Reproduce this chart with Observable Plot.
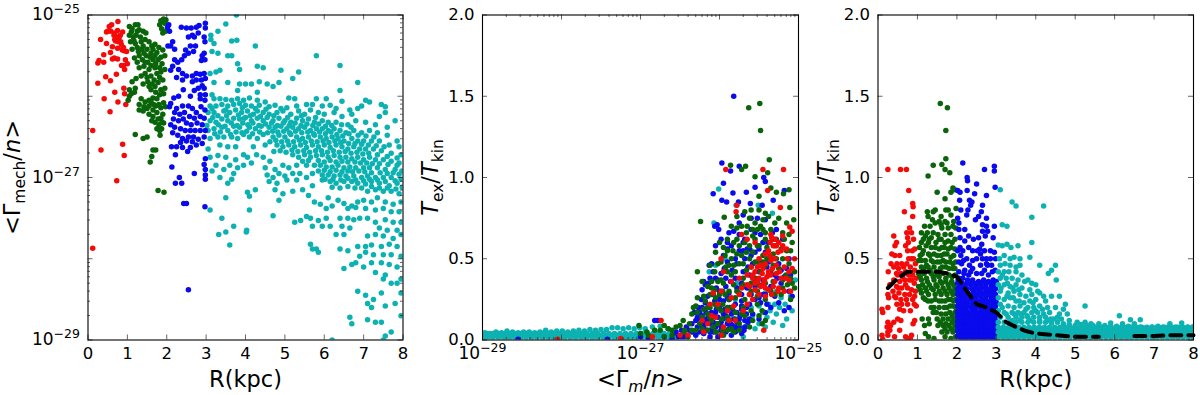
<!DOCTYPE html>
<html><head><meta charset="utf-8">
<script src="https://cdn.jsdelivr.net/npm/d3@7"></script>
<script src="https://cdn.jsdelivr.net/npm/@observablehq/plot@0.6"></script>
<style>html,body{margin:0;background:#fff}#c{position:relative;width:1200px;height:395px;overflow:hidden}</style>
</head><body><div id="c"></div>
<script>
const COL={red:"#f50a0a",green:"#0a640a",blue:"#0a0aee",cyan:"#0cb2b2"};
// Panel 1: R(kpc), log10 <Gamma_mech/n>
const a1Red=[.76,-25.08,.6,-25.12,.54,-25.14,.47,-25.21,.58,-25.2,.75,-25.19,.88,-25.21,.32,-25.3,.47,-25.35,.66,-25.25,.79,-25.28,.7,-25.32,.83,-25.33,.62,-25.39,.75,-25.41,.87,-25.43,.98,-25.45,.4,-25.49,.57,-25.46,.28,-25.56,.25,-25.59,.4,-25.58,.62,-25.54,.75,-25.54,1,-25.6,.85,-25.62,.93,-25.67,.45,-25.76,.25,-25.84,.57,-25.81,.72,-25.73,.91,-25.9,.68,-25.95,.93,-25.97,.41,-26.03,.76,-26.07,.96,-26.1,.56,-26.19,.12,-26.42,.33,-26.66,.88,-26.59,.92,-26.73,.73,-27.04,.12,-27.87,.68,-25.22,.82,-25.25,.9,-25.4,.67,-25.53,.85,-25.37,.5,-25.2,.95,-25.55,.9,-25.62,.72,-25.27,.77,-25.33,.92,-25.44,.68,-25.3];
const a1Green=[1.05,-25.14,1.2,-25.12,1.27,-25.12,1.25,-25.2,1.1,-25.21,1.05,-25.25,1.15,-25.27,1.3,-25.18,1.4,-25.2,1.47,-25.22,1.45,-25.3,1.35,-25.33,1.2,-25.35,1.08,-25.33,1.12,-25.42,1.25,-25.4,1.37,-25.42,1.55,-25.33,1.62,-25.38,1.7,-25.36,1.8,-25.4,1.9,-25.43,1.75,-25.46,1.6,-25.47,1.48,-25.5,1.3,-25.5,1.18,-25.53,1.25,-25.58,1.38,-25.55,1.52,-25.58,1.65,-25.55,1.78,-25.55,1.88,-25.6,1.95,-25.5,1.7,-25.65,1.55,-25.67,1.42,-25.63,1.3,-25.65,1.35,-25.75,1.45,-25.72,1.6,-25.75,1.75,-25.72,1.85,-25.7,1.95,-25.67,1.9,-25.8,1.78,-25.83,1.63,-25.85,1.52,-25.82,1.4,-25.85,1.22,-25.78,1.12,-25.82,1.2,-25.9,1.6,-25.92,1.72,-25.95,1.85,-25.92,1.95,-25.9,1.65,-26.02,1.75,-26.03,1.55,-26.05,1.45,-26.07,1.35,-26.03,1.3,-26.1,1.42,-26.13,1.55,-26.12,1.67,-26.1,1.8,-26.1,1.92,-26.08,1.05,-26,1.02,-26.05,1.3,-26.17,1.55,-26.22,1.65,-26.25,1.75,-26.2,1.85,-26.27,1.8,-26.35,1.7,-26.32,1.62,-26.3,1.9,-26.22,1.87,-26.4,1.2,-26.47,1.4,-26.52,1.5,-26.5,1.83,-26.48,1.72,-26.66,1.65,-26.66,1.62,-26.74,1.58,-26.81,1.78,-27.16,1.93,-27.18,1.85,-25.07,1.92,-25.05,1.98,-25.06,1.82,-25.12,1.95,-25.1,1.97,-25.2,1.9,-25.22,1.87,-25.17,1.1,-25.97,1.18,-25.95,1.05,-25.92,1.12,-25.17,1.22,-25.25,1.33,-25.27,1.17,-25.32,1.4,-25.38,1.5,-25.42,1.28,-25.45,1.65,-25.42,1.42,-25.47,1.7,-25.5,1.58,-25.52,1.45,-25.58,1.85,-25.52,1.72,-25.6,1.6,-25.62,1.82,-25.65,1.5,-25.77,1.68,-25.8,1.55,-25.88,1.82,-25.77,1.7,-25.88,1.82,-25.98,1.92,-25.97,1.6,-26.07,1.72,-26.12,1.5,-26.15,1.85,-26.14,1.97,-26.13,1.4,-26.18,1.65,-26.17,1.78,-26.28,1.92,-26.33,1.75,-26.4,1.82,-26.42,1.88,-26.32];
const a1Blue=[2.05,-25.12,2.07,-25.2,2.02,-25.15,2.15,-25.33,2.1,-25.38,2.2,-25.42,2.03,-25.38,2.37,-25.15,2.5,-25.16,2.62,-25.16,2.75,-25.15,2.82,-25.13,2.98,-25.1,2.98,-25.16,2.8,-25.22,2.65,-25.25,2.55,-25.27,2.7,-25.27,2.95,-25.27,2.97,-25.33,2.73,-25.38,2.6,-25.38,2.48,-25.43,2.55,-25.47,2.45,-25.5,2.68,-25.45,2.95,-25.47,2.9,-25.5,2.88,-25.56,2.97,-25.55,2.38,-25.55,2.2,-25.55,2.28,-25.58,2.15,-25.63,2.1,-25.68,2.3,-25.67,2.4,-25.72,2.25,-25.77,2.4,-25.8,2.5,-25.75,2.65,-25.75,2.75,-25.72,2.85,-25.73,2.95,-25.72,2.98,-25.78,2.88,-25.8,2.75,-25.8,2.65,-25.82,2.9,-25.87,2.8,-25.9,2.95,-25.9,2.98,-25.98,2.85,-25.98,2.7,-25.93,2.6,-26,2.42,-25.92,2.3,-26,2.18,-26.02,2.85,-26.03,2.97,-26.05,2.1,-26.09,2.07,-26.13,2.25,-26.15,2.4,-26.12,2.55,-26.12,2.65,-26.15,2.75,-26.2,2.87,-26.13,2.97,-26.17,2.2,-26.2,2.33,-26.22,2.45,-26.2,2.58,-26.25,2.7,-26.27,2.85,-26.25,2.95,-26.27,2.17,-26.28,2.3,-26.3,2.42,-26.28,2.5,-26.33,2.62,-26.35,2.77,-26.33,2.9,-26.35,2.1,-26.35,2.2,-26.38,2.35,-26.4,2.47,-26.42,2.6,-26.42,2.72,-26.42,2.85,-26.42,2.98,-26.42,2.15,-26.45,2.28,-26.48,2.4,-26.52,2.55,-26.5,2.68,-26.5,2.8,-26.53,2.95,-26.5,2.35,-26.57,2.5,-26.55,2.65,-26.56,2.75,-26.6,2.9,-26.58,2.12,-26.62,2.25,-26.62,2.4,-26.63,2.6,-26.63,2.53,-26.68,2.22,-26.72,2.98,-26.77,2.95,-26.84,2.98,-26.9,2.13,-26.87,2.7,-26.95,2.98,-26.97,2.32,-27,2.98,-27.02,2.22,-27.07,2.38,-27.07,2.43,-27.32,2.5,-27.32,2.97,-27.36,2.55,-28.38];
const a1Cyan=[3.3,-25.2,3.5,-25.11,3.77,-25,3.12,-25.25,3.12,-25.3,3.2,-25.35,3.65,-25.32,3.78,-25.31,4.25,-25.38,3.15,-25.45,3.3,-25.47,3.55,-25.5,3.65,-25.5,3.8,-25.6,3.85,-25.67,5.8,-25.5,4.3,-25.63,4.45,-25.65,6.4,-25.62,3.1,-25.72,3.25,-25.7,3.35,-25.68,4.9,-25.68,5.35,-25.7,5.2,-25.78,4.35,-25.82,3.2,-25.83,3.55,-25.83,3.85,-25.85,4,-25.85,4.15,-25.85,4.55,-25.85,4.7,-25.88,4.85,-25.83,6.85,-25.83,4.3,-25.95,6.4,-25.93,3.15,-25.98,3.8,-25.93,
3.2,-26.03,3.35,-26.03,3.5,-26.04,3.65,-26.05,3.8,-26.03,3.95,-26.05,4.1,-26.02,4.3,-26.05,4.5,-26.07,5.1,-26.02,5.25,-26.03,5.8,-26.03,6.05,-26.03,6.45,-26.06,7.05,-26.05,7.15,-26.07,7.45,-26.1,7.55,-26.13,
3.1,-26.12,3.25,-26.12,3.4,-26.1,3.55,-26.12,3.7,-26.1,3.85,-26.09,4,-26.11,4.15,-26.12,4.35,-26.11,4.6,-26.13,4.75,-26.11,5.05,-26.14,5.3,-26.12,5.55,-26.1,5.7,-26.1,5.95,-26.12,6.15,-26.11,6.3,-26.15,6.65,-26.17,6.85,-26.15,6.95,-26.12,
3.05,-26.2,3.2,-26.2,3.3,-26.24,3.45,-26.18,3.6,-26.2,3.75,-26.17,3.9,-26.2,4.05,-26.18,4.2,-26.22,4.3,-26.18,4.45,-26.2,4.6,-26.22,4.8,-26.2,4.95,-26.18,5.15,-26.22,5.35,-26.18,5.5,-26.22,5.65,-26.17,5.85,-26.2,6,-26.22,6.25,-26.2,6.45,-26.25,6.7,-26.22,7.4,-26.25,7.55,-26.2,7.8,-26.3,
3.1,-26.3,3.25,-26.32,3.4,-26.28,3.55,-26.3,3.7,-26.27,3.85,-26.28,4,-26.26,4.15,-26.3,4.3,-26.27,4.45,-26.3,4.55,-26.26,4.7,-26.3,4.85,-26.27,5,-26.3,5.15,-26.32,5.3,-26.27,5.45,-26.3,5.6,-26.28,5.75,-26.32,5.95,-26.3,6.1,-26.32,6.3,-26.32,6.6,-26.35,6.8,-26.3,7.05,-26.32,7.3,-26.35,7.6,-26.38,
3.05,-26.42,3.2,-26.4,3.4,-26.38,3.55,-26.42,3.7,-26.37,3.85,-26.38,4.1,-26.38,4.25,-26.4,4.4,-26.37,4.6,-26.38,4.75,-26.38,4.9,-26.37,5.05,-26.4,5.2,-26.38,5.35,-26.4,5.5,-26.38,5.65,-26.42,5.8,-26.4,5.95,-26.4,6.1,-26.42,6.25,-26.4,6.4,-26.42,6.55,-26.45,6.75,-26.42,6.95,-26.45,7.15,-26.42,7.35,-26.45,7.6,-26.48,7.85,-26.55,
3.1,-26.52,3.3,-26.5,3.45,-26.5,3.65,-26.5,3.8,-26.52,3.95,-26.47,4.1,-26.5,4.3,-26.52,4.45,-26.47,4.7,-26.5,4.85,-26.48,5,-26.5,5.15,-26.47,5.3,-26.5,5.45,-26.52,5.6,-26.5,5.75,-26.48,5.9,-26.5,6.05,-26.52,6.2,-26.5,6.35,-26.52,6.5,-26.55,6.7,-26.52,6.85,-26.55,7,-26.55,7.2,-26.55,7.4,-26.55,7.65,-26.6,7.9,-26.62,
3.05,-26.65,3.35,-26.6,3.55,-26.62,3.75,-26.62,4.2,-26.62,4.5,-26.6,4.8,-26.6,4.95,-26.62,5.1,-26.6,5.25,-26.62,5.4,-26.6,5.55,-26.63,5.7,-26.6,5.85,-26.62,6,-26.6,6.15,-26.63,6.3,-26.6,6.45,-26.62,6.6,-26.65,6.75,-26.62,6.9,-26.65,7.05,-26.65,7.25,-26.65,7.45,-26.67,7.7,-26.7,7.95,-26.72,
3.1,-26.75,3.3,-26.73,3.5,-26.75,3.75,-26.78,3.95,-26.72,4.05,-26.75,5.2,-26.72,5.35,-26.75,5.5,-26.72,5.65,-26.75,5.8,-26.73,5.95,-26.72,6.1,-26.75,6.25,-26.73,6.4,-26.75,6.55,-26.75,6.7,-26.77,6.85,-26.75,7,-26.78,7.15,-26.75,7.3,-26.78,7.5,-26.78,7.7,-26.8,7.9,-26.82,
3.25,-26.85,3.6,-26.85,3.8,-26.88,4.75,-26.9,4.95,-26.85,5.1,-26.88,5.55,-26.85,5.75,-26.85,5.9,-26.85,6.05,-26.87,6.2,-26.87,6.35,-26.85,6.5,-26.88,6.65,-26.87,6.8,-26.88,7,-26.88,7.15,-26.88,7.35,-26.88,7.55,-26.9,7.8,-26.9,7.97,-26.92,
4.55,-26.97,4.7,-27,4.85,-26.95,5,-26.98,5.95,-26.97,6.1,-26.97,6.25,-26.98,6.4,-26.97,6.55,-26.98,6.75,-26.98,6.95,-27,7.1,-26.98,7.3,-27,7.5,-27,7.7,-27,7.95,-27.02,
3.55,-27.07,3.65,-27.02,4.6,-27.05,4.8,-27.07,5.05,-27.03,5.3,-27.03,5.95,-27.03,6.15,-27.05,6.3,-27.07,6.5,-27.05,6.7,-27.05,6.85,-27.07,7.05,-27.08,7.2,-27.05,7.4,-27.07,7.65,-27.1,7.85,-27.07,
4.05,-27.18,4.25,-27.15,4.75,-27.15,4.95,-27.2,5.2,-27.17,5.45,-27.15,5.6,-27.22,5.7,-27.1,6.95,-27.13,7.1,-27.17,7.3,-27.15,7.5,-27.17,7.7,-27.17,7.9,-27.2,
4.1,-27.23,3.5,-27.25,4.85,-27.28,5.75,-27.3,6.1,-27.25,6.35,-27.28,6.5,-27.32,6.7,-27.35,6.85,-27.3,7,-27.28,7.2,-27.3,7.35,-27.25,7.55,-27.3,7.75,-27.33,7.95,-27.3,
3.1,-27.4,4.1,-27.4,5.9,-27.33,6.05,-27.38,6.2,-27.35,6.6,-27.38,6.8,-27.37,7.05,-27.38,7.3,-27.4,7.5,-27.38,7.7,-27.42,7.9,-27.42,
3.4,-27.5,4.7,-27.47,5.4,-27.53,5.55,-27.48,5.65,-27.5,5.85,-27.53,6.05,-27.5,6.4,-27.5,6.6,-27.5,6.75,-27.52,6.9,-27.5,7.1,-27.5,7.3,-27.55,7.55,-27.52,7.75,-27.55,7.95,-27.55,
3.7,-27.6,5.25,-27.55,5.7,-27.6,5.95,-27.6,6.15,-27.6,6.45,-27.6,6.65,-27.62,7.4,-27.62,7.6,-27.65,7.85,-27.65,3.32,-27.7,3.5,-27.67,4.02,-27.67,4.03,-27.65,6.3,-27.7,6.5,-27.7,7.1,-27.72,7.3,-27.7,7.5,-27.72,7.75,-27.75,7.95,-27.7,
3.6,-27.83,5.65,-27.82,5.7,-27.88,5.8,-27.88,5.85,-27.92,6.4,-27.88,6.6,-27.9,6.85,-27.85,7.05,-27.85,7.2,-27.83,7.45,-27.85,7.65,-27.82,7.85,-27.85,
6.9,-27.97,7.05,-27.92,7.25,-27.95,7.5,-27.95,7.7,-27.95,7.95,-27.97,6.5,-28.12,6.7,-28.07,6.8,-28.05,7,-28.1,7.2,-28.05,7.45,-28.05,7.65,-28.07,7.85,-28.1,
7.3,-28.17,7.5,-28.25,7.55,-28.2,7.7,-28.3,7.85,-28.3,7.95,-28.25,6.85,-28.4,7.05,-28.45,7.25,-28.5,7.45,-28.42,7.95,-28.42,7.1,-28.55,7.2,-28.6,7.55,-28.58,7.8,-28.55,6.7,-28.8,6.65,-28.72,7.1,-28.75,7.3,-28.78,7.45,-28.78,7.95,-28.7,7.55,-28.95,6.2,-29,7.7,-28.9,7.5,-29];
const a1CyanFill=[3.15,-26.15,3.5,-26.17,3.92,-26.14,4.25,-26.15,4.52,-26.16,4.9,-26.15,3.17,-26.26,3.52,-26.24,3.82,-26.23,3.97,-26.27,4.12,-26.24,4.38,-26.25,4.72,-26.24,5.07,-26.26,5.42,-26.24,5.78,-26.26,3.02,-26.36,3.31,-26.35,3.48,-26.37,3.64,-26.33,3.79,-26.36,3.93,-26.33,4.06,-26.35,4.19,-26.33,4.34,-26.36,4.51,-26.34,4.66,-26.33,4.81,-26.36,4.96,-26.33,5.11,-26.36,5.26,-26.33,5.41,-26.36,5.56,-26.34,5.71,-26.36,5.86,-26.34,6.03,-26.37,6.19,-26.36,6.44,-26.35,6.68,-26.38,3.22,-26.46,3.36,-26.44,3.62,-26.47,3.76,-26.44,3.91,-26.45,4.03,-26.43,4.18,-26.46,4.36,-26.44,4.56,-26.45,4.69,-26.43,4.82,-26.44,4.97,-26.43,5.12,-26.45,5.27,-26.43,5.43,-26.45,5.58,-26.44,5.73,-26.46,5.88,-26.44,6.03,-26.46,6.17,-26.44,6.32,-26.47,6.47,-26.49,6.63,-26.46,6.86,-26.48,7.06,-26.49,7.26,-26.5,
4.62,-26.56,4.77,-26.54,4.92,-26.56,5.07,-26.55,5.22,-26.56,5.37,-26.54,5.52,-26.57,5.67,-26.55,5.82,-26.56,5.97,-26.55,6.12,-26.57,6.27,-26.55,6.42,-26.57,6.62,-26.58,6.78,-26.58,6.95,-26.59,7.12,-26.6,7.32,-26.61,7.52,-26.62,4.72,-26.68,4.88,-26.67,5.03,-26.69,5.18,-26.66,5.33,-26.68,5.48,-26.67,5.63,-26.69,5.78,-26.67,5.93,-26.67,6.08,-26.69,6.23,-26.67,6.38,-26.69,6.53,-26.68,6.68,-26.7,6.83,-26.69,6.98,-26.71,7.13,-26.7,7.35,-26.72,7.6,-26.74,7.85,-26.76,5.45,-26.8,5.6,-26.79,5.85,-26.79,6,-26.81,6.15,-26.79,6.3,-26.81,6.45,-26.8,6.6,-26.81,6.78,-26.81,6.92,-26.82,7.08,-26.82,7.22,-26.83,7.4,-26.83,7.62,-26.84,7.85,-26.85,5.85,-26.92,6,-26.91,6.15,-26.93,6.3,-26.91,6.45,-26.93,6.6,-26.92,6.72,-26.93,6.88,-26.92,7.03,-26.93,7.2,-26.94,7.42,-26.94,7.6,-26.95,7.75,-26.94,7.9,-26.96,6.02,-27.02,6.22,-27.02,6.42,-27.03,6.6,-27.01,6.8,-27.03,7,-27.04,7.15,-27.02,7.35,-27.03,7.55,-27.05,7.8,-27.04,6.2,-27.12,6.4,-27.13,6.6,-27.11,6.78,-27.13,7.2,-27.11,7.4,-27.13,7.6,-27.13,7.82,-27.14,7.98,-27.12,4.45,-26.75,4.62,-26.8,4.28,-26.72,3.95,-26.85,4.15,-26.82,3.45,-26.9,3.7,-26.95,4.5,-26.88,3.35,-27,3.15,-26.92,5.3,-26.85,5.38,-26.95,5.55,-27,5.2,-26.95,5.7,-26.95];
// Panel 2: log10 <Gamma_m/n>, Tex/Tkin
const b2CyanLow=[-29,-28.94,-28.87,-28.8,-28.73,-28.66,-28.59,-28.52,-28.45,-28.38,-28.31,-28.24,-28.17,-28.1,-28.03,-27.96,-27.89,-27.82,-27.75,-27.68,-27.61,-27.54,-27.47,-27.4,-27.33,-27.26,-27.19,-27.12,-27.05,-26.98,-26.91,-26.84,-26.77,-26.7,-26.63,-26.56];
const b2CyanMid=[-28.97,-28.9,-28.83,-28.76,-28.69,-28.62,-28.55,-28.48,-28.41,-28.34,-28.27,-28.2,-28.13,-28.06,-27.99,-27.92,-27.85,-27.78,-27.71,-27.64,-27.57,-27.5,-27.43,-27.36,-27.29,-27.22,-27.15,-27.08,-27.01,-26.94,-26.87,-26.8,-26.73,-26.66];
const b2CyanHigh=[-28.97,.045,-28.9,.04,-28.83,.05,-28.76,.045,-28.69,.055,-28.62,.05,-28.55,.045,-28.48,.05,-28.41,.05,-28.34,.045,-28.27,.05,-28.2,.06,-28.13,.05,-28.06,.055,-27.99,.055,-27.92,.05,-27.85,.055,-27.78,.06,-27.71,.055,-27.64,.065,-27.57,.06,-27.5,.065,-27.43,.065,-27.36,.075,-27.29,.075,-27.22,.07,-27.15,.075,-27.08,.07,-27.01,.075,-26.94,.07,-26.85,.08,-26.75,.085,-26.65,.07,-26.6,.04,-26.35,.05,-26.2,.04,-26.1,.07,-25.98,.06,-25.84,.06,-25.7,.02,-25.65,.09,-25.62,.12,-25.55,.07,-25.58,.15,-25.5,.1,-25.42,.08,-25.45,.17,-25.4,.14,-25.36,.18,-25.32,.11,-25.28,.16,-25.24,.2,-25.3,.22,-25.38,.22,-25.2,.09,-25.15,.13,-25.17,.22,-25.22,.26,-25.1,.27,-25.08,.18,-25.04,.37,-25.1,.36,-25.28,.3,-25.42,.29,-25.5,.21,-25.6,.2,-25.93,.5,-26.13,.42,-26.05,.46,-26.07,.72,-26.01,.93,-25.79,.83,-25.51,.83,-25.33,.78,-25.4,.6,-25.6,.55,-25.78,.35,-25.9,.12,-25.8,.25,-26,.3];
const b2Blue=[-25.82,1.5,-25.97,1.09,-25.86,1.04,-25.75,1.07,-25.95,.965,-25.83,.905,-26.08,.9,-25.97,.86,-25.91,.85,-25.66,.91,-25.55,.94,-25.44,1,-25.42,.975,-25.18,.92,-25.32,.86,-25.61,.84,-25.46,.83,-25.76,.85,-26.06,.7,-26.03,.71,-26.01,.68,-25.98,.62,-26.05,.58,-26.1,.47,-26.13,.46,-26.2,.36,-26.22,.31,-26.18,.34,-26.14,.35,-25.7,.77,-25.6,.75,-25.52,.75,-25.42,.74,-25.75,.72,-25.82,.67,-25.9,.6,-25.68,.62,-25.55,.66,-25.45,.6,-25.38,.6,-25.2,.62,-25.28,.68,-25.75,.55,-25.62,.56,-25.9,.48,-25.98,.41,-26.05,.38,-25.8,.38,-25.7,.42,-25.58,.47,-25.48,.48,-25.35,.5,-25.25,.47,-25.15,.44,-25.12,.3,-25.22,.35,-25.35,.33,-25.45,.28,-25.55,.33,-25.65,.32,-25.78,.32,-25.92,.33,-26,.3,-26.08,.28,-26.15,.27,-26.23,.25,-26.27,.2,-26.32,.17,-26.28,.13,-26.22,.15,-26.17,.17,-26.13,.2,-26.1,.14,-26.05,.17,-26,.2,-25.95,.24,-25.88,.25,-25.8,.22,-25.72,.24,-25.62,.22,-25.55,.25,-25.75,.13,-25.85,.16,-25.92,.15,-25.98,.11,-26.05,.08,-26.12,.1,-26.2,.1,-26.28,.08,-26.35,.1,-26.38,.06,-26.42,.03,-26.48,.06,-26.55,.05,-26.7,.02,-26.78,.12,-26.82,.12,-25.68,.12,-25.78,.07,-25.85,.03,-25.72,.04,-25.92,.05,-26.02,.02,-26.12,.02,-26.2,.04,-26.3,.03,-26.45,.02,-26.52,.02,-26.6,.01,-26.9,.01,-27,.02,-27.42,.005,-28.55,.005];
const b2BlueFill=[-26.28,.14,-26.22,.2,-26.15,.12,-26.1,.17,-26.06,.24,-26.02,.14,-25.97,.18,-25.9,.1,-25.87,.2,-25.82,.13,-25.78,.17,-25.72,.19,-25.66,.16,-25.62,.13,-26.26,.05,-26.16,.06,-26.08,.05,-25.98,.06,-25.88,.07,-25.8,.05,-25.75,.08,-26.34,.05,-26.42,.08,-26.48,.02,-26.58,.04,-26.3,.12,-26.18,.23,-26.24,.09,-26.1,.06,-25.96,.13,-25.84,.09,-25.76,.11,-25.68,.08,-25.9,.26,-26,.25,-25.72,.28,-25.6,.28,-25.5,.26,-25.4,.22,-25.3,.27,-26.04,.32,-25.86,.36,-25.72,.35,-25.62,.4,-25.5,.42,-25.4,.45,-25.3,.4,-25.18,.39,-25.94,.44,-25.84,.43,-25.78,.47,-25.68,.5,-25.55,.54,-25.42,.54,-25.12,.5,-25.95,.52,-25.85,.58,-25.65,.56,-25.48,.65,-25.33,.66,-25.75,.65,-25.6,.68,-25.88,.66,-26.2,.08,-26.14,.14,-26.08,.11,-26.04,.19,-25.99,.09,-25.93,.19,-25.89,.13,-25.83,.18,-25.78,.11,-25.74,.15,-25.69,.06,-25.66,.2,-26.25,.17,-26.19,.13,-26.12,.05,-26.03,.1,-25.95,.16,-25.86,.1,-25.8,.08,-25.72,.21,-25.64,.11,-25.58,.16,-25.5,.13,-25.42,.17,-25.35,.2,-25.25,.23,-25.12,.2,-25.08,.27,-25.18,.18,-25.27,.38,-25.22,.43,-25.1,.4,-25.42,.28,-25.48,.23,-25.56,.38,-25.64,.45,-25.7,.55,-25.8,.5,-25.92,.38,-26.02,.37,-26.12,.38,-26.08,.42,-25.88,.29,-25.68,.33,-25.45,.37,-25.6,.52,-25.5,.56,-25.38,.48,-25.9,.56,-25.7,.6];
const b2Green=[-25.63,1.43,-25.49,1.455,-25.48,1.29,-25.37,1.11,-25.86,1.075,-25.67,1.07,-25.72,1.05,-25.55,1.005,-25.39,1.03,-25.35,.935,-25.28,.91,-25.12,.925,-25.19,.9,-25.5,.885,-25.11,.815,-26.24,.73,-25.94,.755,-25.06,.74,-25.68,.79,-25.6,.8,-25.5,.8,-25.42,.78,-25.38,.76,-25.25,.75,-25.78,.76,-25.85,.7,-25.72,.7,-25.55,.72,-25.48,.7,-25.35,.68,-25.2,.66,-25.12,.65,-26,.6,-25.9,.62,-25.78,.62,-25.68,.6,-25.55,.62,-25.42,.62,-25.3,.58,-26.05,.54,-25.93,.52,-25.83,.55,-25.72,.52,-25.58,.54,-25.45,.52,-25.28,.5,-25.15,.55,-26.12,.46,-26.02,.47,-25.88,.46,-25.75,.47,-25.6,.45,-25.42,.46,-25.25,.44,-25.12,.47,-25.05,.42,-26.28,.42,-26.22,.36,-26.1,.36,-25.98,.37,-25.85,.4,-25.7,.38,-25.55,.38,-25.38,.4,-25.2,.37,-25.08,.35,-26.28,.26,-26.2,.27,-26.1,.28,-26,.28,-25.88,.3,-25.75,.29,-25.62,.28,-25.42,.25,-25.22,.28,-25.1,.25,-26.33,.2,-26.12,.2,-26.02,.2,-25.9,.2,-25.7,.2,-25.52,.22,-26.22,.14,-26.1,.12,-25.97,.13,-25.8,.13,-26.38,.1,-26.5,.09,-26.65,.07,-26.75,.06,-26.92,.05,-27.02,.09,-26.9,.03,-26.45,.05,-26.3,.06,-26.05,.05,-25.95,.03,-25.85,.07,-26.6,.03,-26.7,.02,-26.4,.02,-26.15,.06];
const b2GreenFill=[-25.62,.75,-25.52,.68,-25.45,.74,-25.78,.69,-25.82,.6,-25.66,.66,-25.58,.64,-25.5,.58,-25.4,.57,-25.32,.62,-25.22,.56,-25.95,.57,-25.85,.5,-25.78,.53,-25.66,.54,-25.52,.48,-25.4,.5,-25.32,.46,-25.98,.48,-25.9,.42,-25.82,.46,-25.7,.47,-25.62,.5,-25.48,.42,-25.35,.42,-25.16,.4,-26.06,.42,-25.95,.35,-25.82,.34,-25.72,.33,-25.6,.35,-25.5,.34,-25.32,.36,-25.14,.34,-26.15,.33,-26.06,.31,-25.93,.28,-25.8,.26,-25.68,.25,-25.52,.27,-25.35,.3,-26.18,.24,-26.06,.22,-25.96,.22,-25.84,.2,-25.72,.16,-25.6,.18,-25.46,.18,-26.28,.17,-26.15,.16,-26.02,.1,-25.9,.14,-25.75,.1,-25.62,.08,-26.35,.06,-26.22,.07,-26.08,.08,-25.9,.06,-26.55,.08,-26.46,.12,-26.7,.09,-26.82,.06,-27,.04,-26.35,.16,-25.46,.1,-26.1,.32,-26.02,.36,-25.96,.3,-25.88,.25,-25.78,.3,-25.7,.34,-25.6,.3,-25.52,.3,-25.42,.35,-25.3,.28,-25.2,.32,-25.1,.38,-25.05,.32,-26.05,.26,-25.98,.18,-25.88,.12,-25.8,.17,-25.68,.15,-25.58,.12,-25.5,.15,-25.42,.12,-26.12,.28,-26.2,.19,-26.3,.21,-26.12,.14,-26.04,.05,-25.96,.06,-25.82,.05,-25.75,.06,-26.6,.06,-26.44,.06,-26.25,.1,-26.15,.2,-25.92,.45,-25.8,.42,-25.66,.43,-25.55,.48,-25.45,.48,-25.32,.53,-25.2,.5,-25.1,.55,-25.9,.55,-25.75,.58,-25.62,.58,-25.52,.58,-25.42,.66,-25.28,.62,-25.18,.62,-25.08,.6,-25.65,.7,-25.58,.68,-25.45,.68,-25.3,.72,-25.15,.72];
const b2Red=[-25.45,1.05,-25.92,1.05,-25.19,1.05,-25.39,.92,-25.23,.815,-25.78,.83,-25.79,.79,-25.11,.695,-25.08,.67,-25.44,.06,-26.74,.12,-25.35,.65,-25.3,.62,-25.25,.6,-25.32,.58,-25.2,.58,-25.15,.56,-25.38,.55,-25.42,.53,-25.65,.62,-25.55,.6,-25.72,.65,-25.98,.5,-25.5,.5,-25.35,.49,-25.05,.5,-25.6,.45,-25.52,.45,-25.45,.44,-25.38,.42,-25.28,.46,-25.18,.45,-25.12,.42,-25.65,.4,-25.58,.4,-25.5,.38,-25.43,.37,-25.35,.4,-25.22,.38,-25.75,.38,-25.85,.36,-25.95,.42,-25.62,.33,-25.55,.31,-25.48,.33,-25.42,.32,-25.32,.33,-25.25,.32,-25.18,.3,-25.1,.3,-25.58,.25,-25.65,.22,-25.75,.28,-25.85,.26,-25.98,.3,-26.08,.29,-26.12,.22,-25.82,.21,-25.9,.18,-25.95,.08,-26.05,.14,-26.15,.1,-26.2,.05,-25.98,.03,-26.4,.03,-26.5,.03,-28.05,.005,-27.25,.01,-26.85,.02,-25.34,.63,-25.28,.58,-25.22,.55,-25.36,.52,-25.55,.42,-25.48,.46,-25.4,.39,-25.52,.36,-25.46,.41,-25.44,.35,-25.38,.31,-25.3,.36,-25.58,.38,-25.28,.41,-25.62,.28,-25.42,.47,-25.33,.44,-25.24,.42,-25.16,.38,-25.55,.35,-25.65,.34,-25.72,.32,-25.5,.28,-25.42,.27,-25.34,.28,-25.26,.3,-25.12,.37,-25.08,.44,-25.3,.5,-25.36,.6,-25.26,.54,-25.2,.64,-25.14,.5,-25.7,.18,-25.8,.12,-25.88,.12,-26.02,.22,-26.1,.15,-26.22,.12];
// Panel 3: R(kpc), Tex/Tkin
const c3Red=[.25,1.05,.57,1.05,.72,1.05,.78,.92,.88,.84,.89,.82,.67,.79,.88,.76,.8,.69,.73,.66,.85,.66,.75,.63,.4,.64,.47,.6,.43,.58,.7,.58,.77,.6,.9,.62,.93,.56,.87,.55,.75,.55,.35,.53,.43,.52,.55,.52,.78,.5,.9,.5,.6,.47,.48,.47,.33,.47,.4,.45,.52,.44,.65,.45,.82,.45,.95,.47,.26,.42,.47,.41,.58,.41,.7,.42,.88,.4,.4,.37,.55,.36,.68,.37,.8,.37,.92,.35,.3,.34,.47,.33,.6,.32,.75,.32,.85,.31,.25,.28,.38,.3,.53,.29,.68,.28,.8,.28,.93,.27,.27,.26,.45,.26,.58,.25,.72,.25,.48,.22,.6,.22,.75,.22,.92,.22,.97,.21,.1,.19,.25,.2,.55,.19,.65,.18,.82,.18,.12,.17,.4,.11,.5,.13,.58,.12,.25,.11,.32,.09,.93,.12,.89,.1,.23,.08,.3,.06,.25,.05,.55,.06,.42,.02,.25,.03,.1,.03,.7,.02,.75,.01,.85,.03,.12,.005,.82,.01,.85,.5,.93,.43,.97,.38,.78,.4,.85,.37,.73,.47,.7,.34,.95,.3,.88,.25,.62,.39,.52,.32,.42,.27,.5,.4];
const c3Green=[1.58,1.455,1.76,1.43,1.72,1.29,1.72,1.115,1.27,1.01,1.4,1.075,1.62,1.08,1.7,1.05,1.82,1.03,1.5,.91,1.9,.935,1.85,.91,1.95,.925,1.7,.87,1.25,.79,1.45,.8,1.4,.79,1.72,.8,1.78,.8,1.98,.81,1.27,.76,1.6,.76,1.85,.77,1.55,.73,1.7,.73,1.92,.73,1.18,.7,1.32,.7,1.45,.72,1.62,.69,1.78,.69,1.97,.69,1.1,.66,1.25,.66,1.4,.66,1.52,.65,1.7,.65,1.85,.65,1.15,.62,1.3,.62,1.47,.6,1.6,.62,1.78,.61,1.95,.62,1.05,.57,1.22,.58,1.35,.57,1.55,.56,1.68,.57,1.85,.57,1.12,.53,1.28,.53,1.42,.53,1.6,.52,1.75,.53,1.92,.52,1.03,.49,1.2,.49,1.35,.49,1.5,.48,1.65,.49,1.82,.48,1.97,.48,1.1,.45,1.27,.45,1.42,.45,1.58,.44,1.72,.45,1.9,.44,1.03,.41,1.17,.41,1.35,.41,1.5,.4,1.65,.41,1.8,.4,1.96,.4,1.1,.37,1.25,.36,1.42,.37,1.58,.36,1.72,.36,1.87,.36,1.03,.33,1.2,.32,1.35,.32,1.5,.33,1.65,.32,1.8,.32,1.95,.32,1.1,.29,1.28,.28,1.45,.28,1.6,.28,1.75,.28,1.9,.28,1.2,.25,1.35,.24,1.55,.24,1.7,.24,1.85,.25,1.97,.25,1.42,.2,1.55,.2,1.75,.2,1.9,.21,1.4,.17,1.6,.16,1.82,.17,1.95,.17,1.12,.13,1.28,.13,1.5,.13,1.65,.13,1.78,.13,1.92,.13,1.18,.09,1.3,.1,1.52,.09,1.65,.09,1.8,.09,1.95,.09,1.62,.05,1.75,.05,1.9,.05,1.97,.02,1.2,.04,1.28,.02,1.42,.01,1.7,.02,1.85,.01];
const c3GreenFill=[1.38,.74,1.6,.71,1.75,.72,1.9,.7,1.2,.64,1.35,.63,1.55,.62,1.7,.6,1.88,.6,1.1,.6,1.28,.6,1.45,.57,1.62,.57,1.78,.56,1.95,.56,1.15,.55,1.32,.52,1.5,.52,1.68,.53,1.85,.51,1.07,.52,1.23,.46,1.4,.48,1.57,.48,1.72,.48,1.9,.47,1.1,.49,1.15,.44,1.32,.43,1.47,.42,1.63,.45,1.8,.44,1.95,.44,1.07,.39,1.23,.38,1.4,.39,1.55,.39,1.72,.38,1.88,.39,1.13,.34,1.3,.34,1.47,.34,1.62,.35,1.78,.34,1.92,.34,1.07,.31,1.23,.3,1.4,.31,1.55,.3,1.7,.3,1.85,.3,1.97,.3,1.15,.26,1.27,.24,1.45,.25,1.62,.24,1.78,.25,1.92,.24,1.35,.2,1.48,.17,1.68,.2,1.83,.21,1.97,.2,1.72,.16,1.88,.15,1.58,.11,1.72,.1,1.88,.11,1.97,.11,1.7,.07,1.85,.07,1.95,.06];
const c3BlueUpper=[2.15,1.09,2.7,1.05,2.95,1.07,2.95,1.04,2.26,1,2.27,.98,2.5,.96,2.26,.92,2.02,.92,2.08,.91,2.45,.9,2.75,.89,2.97,.94,2.07,.86,2.32,.86,2.38,.85,2.35,.83,2.65,.83,2.62,.79,2.1,.8,2.28,.8,2.25,.77,2.55,.76,2.47,.74,2.75,.75,2.02,.75,2.05,.72,2.65,.71,2.75,.7,2.95,.7,2.2,.68,2.05,.68,2.78,.67,2.65,.67,2.72,.64,2.3,.64,2.08,.63,2.55,.63,2.92,.63,2.42,.62,2.2,.61,2.63,.59,2.58,.56,2.08,.57,2.3,.57,2.4,.55,2.15,.55,2.7,.55,2.85,.55,2.95,.54,2.6,.53,2.1,.52,2.25,.5,2.5,.5,2.75,.5,2.85,.5,2.98,.5,2.12,.47,2.32,.46,2.6,.46,2.88,.46,2.2,.43,2.4,.44,2.7,.43,2.97,.43,2.05,.42,2.5,.41,2.3,.4,2.8,.4,2.02,.55,2.05,.48,2.17,.49,2.4,.49,2.65,.5,2.52,.55,2.78,.46,2.9,.42,2.63,.41,2.18,.41,2.35,.42,2.05,.38,2.75,.47];
const c3BlueSolid=[2.03,.37,2.15,.38,2.27,.37,2.4,.37,2.55,.36,2.68,.37,2.8,.36,2.92,.37,3,.36,2.08,.33,2.2,.33,2.35,.34,2.48,.33,2.6,.34,2.73,.33,2.87,.33,2.98,.33,2.04,.3,2.14,.3,2.28,.29,2.42,.3,2.56,.3,2.68,.29,2.8,.3,2.93,.3,2.08,.26,2.2,.27,2.33,.26,2.47,.26,2.6,.27,2.73,.26,2.86,.27,2.98,.26,2.04,.23,2.15,.23,2.27,.23,2.4,.22,2.53,.23,2.65,.23,2.78,.23,2.91,.22,3,.23,2.1,.195,2.22,.19,2.35,.2,2.47,.19,2.6,.2,2.72,.19,2.85,.195,2.97,.19,2.04,.16,2.16,.16,2.28,.16,2.41,.16,2.53,.16,2.66,.16,2.79,.16,2.91,.16,3,.16,2.08,.13,2.2,.13,2.33,.13,2.45,.13,2.58,.13,2.7,.13,2.83,.13,2.96,.13,2.04,.1,2.15,.1,2.27,.1,2.4,.1,2.52,.1,2.65,.1,2.77,.1,2.9,.1,3,.1,2.08,.07,2.2,.07,2.33,.07,2.45,.07,2.58,.07,2.7,.07,2.83,.07,2.96,.07,2.05,.04,2.16,.04,2.28,.04,2.41,.04,2.53,.04,2.66,.04,2.79,.04,2.91,.04,3,.04,2.1,.012,2.22,.012,2.35,.012,2.47,.012,2.6,.012,2.72,.012,2.85,.012,2.97,.012];
const c3BlueFillX=[2.02,2.14,2.26,2.38,2.5,2.62,2.74,2.86,2.98], c3BlueFillY=[.025,.055,.085,.115,.145,.175,.21,.245,.28,.315,.35];
const c3CyanBand=[3.05,3.18,3.31,3.44,3.57,3.7,3.83,3.96,4.09,4.22,4.35,4.48,4.61,4.74,4.87,5,5.13,5.26,5.39,5.52,5.65,5.78,5.91,6.04,6.17,6.3,6.43,6.56,6.69,6.82,6.95,7.08,7.21,7.34,7.47,7.6,7.73,7.86,7.99];
const c3CyanOffset=[3.11,3.24,3.37,3.5,3.63,3.76,3.89,4.02,4.15,4.28,4.41,4.54,4.67,4.8,4.93,5.06,5.19,5.32,5.45,5.58,5.71,5.84,5.97,6.1,6.23,6.36,6.49,6.62,6.75,6.88,7.01,7.14,7.27,7.4,7.53,7.66,7.79,7.92];
const c3CyanTop=[3.1,.925,3.15,.71,3.27,.7,3.4,.85,3.5,.825,3.9,.755,4.2,.825,3.9,.6,3.05,.585,3.15,.58,3.27,.59,3.37,.57,3.55,.58,3.85,.51,3.08,.5,3.2,.52,3.35,.5,3.45,.51,3.6,.5,4.1,.46,4.5,.46,4.4,.43,4.32,.41,4.52,.37,3.1,.46,3.22,.47,3.35,.46,3.5,.45,3.6,.46,3.05,.42,3.2,.42,3.32,.42,3.5,.42,3.65,.4,3.8,.37,3.1,.38,3.25,.38,3.4,.38,3.55,.37,3.72,.36,3.9,.35,4,.34,3.05,.34,3.2,.34,3.35,.33,3.5,.34,3.65,.32,3.85,.31,4.05,.3,3.1,.3,3.3,.29,3.45,.3,3.6,.28,3.75,.27,3.9,.28,4.1,.29,4.2,.27,4.4,.27,4.6,.27,3.05,.26,3.2,.25,3.35,.26,3.5,.24,3.7,.23,3.85,.24,4,.25,4.25,.24,4.75,.22,5.25,.21,3.1,.22,3.3,.21,3.45,.2,3.6,.21,3.8,.2,3.95,.2,4.1,.21,4.3,.2,4.5,.2,4.7,.19,3.05,.18,3.2,.17,3.4,.17,3.55,.17,3.7,.17,3.9,.17,4.05,.17,4.2,.16,4.35,.17,4.6,.16,4.8,.16,3.1,.14,3.3,.14,3.5,.14,3.65,.14,3.8,.14,3.95,.14,4.1,.14,4.25,.14,4.45,.13,4.65,.13,4.85,.12,6.12,.15,6.4,.125,6.65,.125,5.05,.11,5.25,.11,5.4,.1,5.6,.1,5.9,.105,6.2,.1,6.5,.1,7.4,.1,7.7,.105,3.15,.4,3.28,.35,3.42,.32,3.57,.31,3.12,.32,3.27,.27,3.43,.26,3.58,.24,3.75,.19,3.93,.23,4.17,.19,4.38,.13,4.55,.14,3.15,.2,3.25,.16,3.45,.16,3.62,.16,3.78,.15,4,.18,3.4,.12,3.6,.12,3.85,.12,4.1,.12,4.3,.12];
const c3CyanHigh=[3.05,.11,3.2,.11,3.35,.11,3.5,.11,3.65,.11,3.8,.11,3.95,.11,4.1,.11,4.25,.11,4.4,.105,4.55,.11,4.7,.1,4.85,.095,5,.09,5.15,.095,5.3,.09,5.45,.09,5.6,.085,5.75,.09,5.9,.085,6.05,.085,6.2,.08,6.35,.085,6.5,.08,6.65,.08,6.8,.075,6.95,.08,7.1,.085,7.25,.08,7.4,.085,7.55,.08,7.7,.08,7.85,.08,7.98,.08];
const c3Guide=[.25,.32,.5,.38,.75,.42,1,.42,1.25,.42,1.5,.42,1.75,.41,2,.39,2.25,.3,2.5,.22,2.75,.2,3,.17,3.25,.11,3.5,.08,3.75,.055,4,.04,4.5,.03,5,.02,5.6,.02,null,null,6.5,.025,7,.025,7.5,.03,8,.03];

const pairs=(a,c)=>{const o=[];for(let i=0;i<a.length;i+=2)o.push({x:a[i],y:a[i+1],c});return o};
const row=(xs,y,c)=>xs.map(x=>({x,y,c}));
const logY=d=>({...d,y:10**d.y});
const logX=d=>({...d,x:10**d.x});
const set1=[...pairs(a1Cyan,COL.cyan),...pairs(a1CyanFill,COL.cyan),...pairs(a1Red,COL.red),...pairs(a1Green,COL.green),...pairs(a1Blue,COL.blue)].map(logY);
const set2=[...row(b2CyanLow,.012,COL.cyan),...row(b2CyanMid,.028,COL.cyan),...row(b2CyanLow,.04,COL.cyan),...pairs(b2CyanHigh,COL.cyan),...pairs(b2Blue,COL.blue),...pairs(b2BlueFill,COL.blue),...pairs(b2Green,COL.green),...pairs(b2GreenFill,COL.green),...pairs(b2Red,COL.red)].map(logX);
const set3=[...pairs(c3Red,COL.red),...pairs(c3Green,COL.green),...pairs(c3GreenFill,COL.green),...pairs(c3BlueUpper,COL.blue),...pairs(c3BlueSolid,COL.blue),...c3BlueFillY.flatMap(y=>row(c3BlueFillX,y,COL.blue)),...row(c3CyanBand,.015,COL.cyan),...row(c3CyanOffset,.03,COL.cyan),...row(c3CyanBand,.048,COL.cyan),...row(c3CyanOffset,.066,COL.cyan),...row(c3CyanBand,.078,COL.cyan),...pairs(c3CyanHigh,COL.cyan),...pairs(c3CyanTop,COL.cyan)];
const guide=pairs(c3Guide);

const linTicks=[0,.5,1,1.5,2], rTicks=[0,1,2,3,4,5,6,7,8];
const decades=[-29,-28,-27,-26,-25], labelled=[-29,-27,-25];
const major=decades.map(d=>10**d);
const minor=decades.slice(0,-1).flatMap(d=>d3.range(2,10).map(m=>m*10**d));
const fmtLog=v=>{const e=Math.round(Math.log10(v));return labelled.includes(e)?"10^"+e:""};

const H=395,mTop=14.5,mBot=55.5;
function ticksX(vals,w,len){const h=H-mTop-mBot;return [Plot.ruleX(vals,{x:d=>d,insetTop:h-len,stroke:"#222",strokeWidth:.7}),Plot.ruleX(vals,{x:d=>d,insetBottom:h-len,stroke:"#222",strokeWidth:.7})]}
function ticksY(vals,w,len){return [Plot.ruleY(vals,{y:d=>d,insetRight:w-len,stroke:"#222",strokeWidth:.7}),Plot.ruleY(vals,{y:d=>d,insetLeft:w-len,stroke:"#222",strokeWidth:.7})]}
function panel(o){
  const w=o.width-o.ml-o.mr;
  const svg=Plot.plot({width:o.width,height:H,marginLeft:o.ml,marginRight:o.mr,marginTop:mTop,marginBottom:mBot,
    style:{fontFamily:"DejaVu Sans",overflow:"visible",background:"transparent",maxWidth:"none",color:"#000"},
    x:o.x,y:o.y,
    marks:[
      Plot.dot(o.data,{x:"x",y:"y",r:2.75,fill:"c",stroke:null,clip:"frame"}),
      ...(o.extra||[]),
      ...(o.xMinor?ticksX(o.xMinor,w,2.5):[]),...ticksX(o.xMajor,w,5),
      ...(o.yMinor?ticksY(o.yMinor,w,2.5):[]),...ticksY(o.yMajor,w,5),
      Plot.frame({stroke:"#000",strokeWidth:1.1}),
      Plot.axisX({ticks:o.xMajor,tickSize:0,tickPadding:7,tickFormat:o.xFmt,fontSize:16.5,label:o.xLabel,labelAnchor:"center",labelOffset:46.5,labelArrow:"none"}),
      Plot.axisY({ticks:o.yMajor,tickSize:0,tickPadding:8,tickFormat:o.yFmt,fontSize:16.5,label:o.yLabel,labelAnchor:"center",labelOffset:o.yOff,labelArrow:"none"})
    ]});
  svg.style.position="absolute";svg.style.left=o.left+"px";svg.style.top="0";
  d3.select(svg).selectAll("text").each(function(){
    const t=this.textContent;
    if(/^10\^-?\d+$/.test(t)){
      this.innerHTML=`10<tspan dy="-7" font-size="12.5">\u2212${t.split("-")[1]}</tspan>`;
      this.setAttribute("font-size","17");
    }else if(o.markup[t]){
      this.innerHTML=o.markup[t];this.setAttribute("font-size","22.5");
      this.setAttribute("text-anchor","middle");
    }
  });
  document.getElementById("c").appendChild(svg);
}
const sub=s=>`<tspan dy="5" font-size="15.5">${s}</tspan>`;
const tex=`<tspan font-style="italic">T</tspan>${sub("ex")}<tspan dy="-5">/</tspan><tspan font-style="italic">T</tspan>${sub("kin")}`;
const rLabel="R(kpc)";
panel({left:0,width:410,ml:87.5,mr:7.5,data:set1,
  x:{type:"linear",domain:[0,8]},y:{type:"log",domain:[1e-29,1e-25]},
  xMajor:rTicks,yMajor:major,yMinor:minor,xFmt:d=>String(d),yFmt:fmtLog,
  xLabel:rLabel,yLabel:"Gmech",yOff:84,markup:{[rLabel]:"R(kpc)",Gmech:`&lt;\u0393${sub("mech")}<tspan dy="-5">/</tspan><tspan font-style="italic">n</tspan>&gt;`}});
panel({left:410,width:395,ml:72,mr:7,data:set2,
  x:{type:"log",domain:[1e-29,1e-25]},y:{type:"linear",domain:[0,2]},
  xMajor:major,xMinor:minor,yMajor:linTicks,xFmt:fmtLog,yFmt:d3.format(".1f"),
  xLabel:"Gm",yLabel:"Tex",yOff:60,markup:{Gm:`&lt;\u0393<tspan dy="5" font-size="15.5" font-style="italic">m</tspan><tspan dy="-5">/</tspan><tspan font-style="italic">n</tspan>&gt;`,Tex:tex}});
panel({left:805,width:395,ml:72.5,mr:7,data:set3,
  x:{type:"linear",domain:[0,8]},y:{type:"linear",domain:[0,2]},
  xMajor:rTicks,yMajor:linTicks,xFmt:d=>String(d),yFmt:d3.format(".1f"),
  xLabel:rLabel,yLabel:"Tex",yOff:60,markup:{[rLabel]:"R(kpc)",Tex:tex},
  extra:[Plot.line(guide,{x:"x",y:"y",stroke:"#000",strokeWidth:4,strokeDasharray:"11,7",curve:"linear"})]});
</script></body></html>
